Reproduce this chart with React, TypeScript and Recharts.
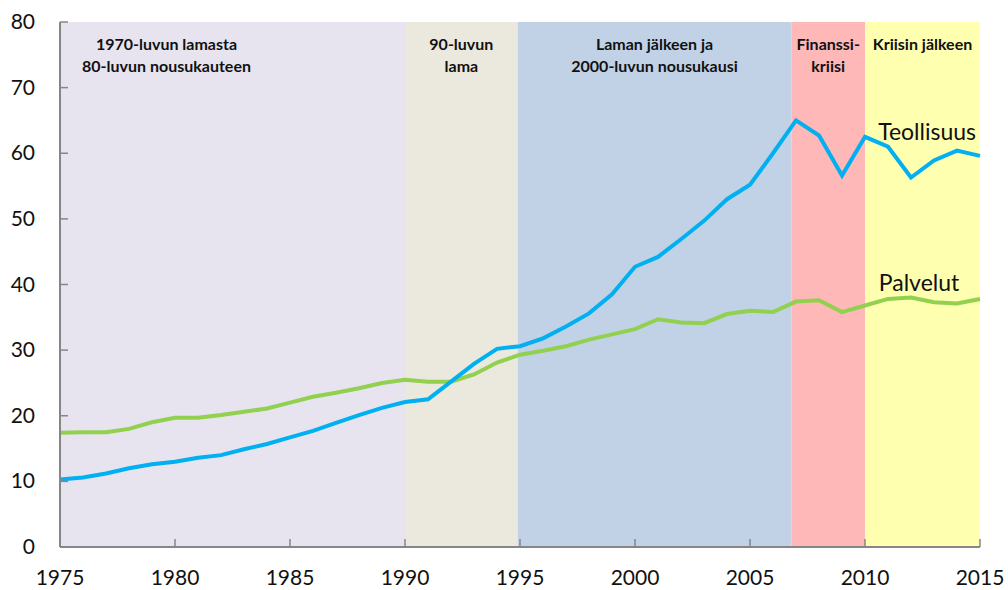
import React from 'react';
import {
  LineChart,
  Line,
  XAxis,
  YAxis,
  ReferenceArea,
  ReferenceDot,
} from 'recharts';

// --- Data ---
const years = [
  1975, 1976, 1977, 1978, 1979, 1980, 1981, 1982, 1983, 1984,
  1985, 1986, 1987, 1988, 1989, 1990, 1991, 1992, 1993, 1994,
  1995, 1996, 1997, 1998, 1999, 2000, 2001, 2002, 2003, 2004,
  2005, 2006, 2007, 2008, 2009, 2010, 2011, 2012, 2013, 2014, 2015,
];

const teollisuus = [
  10.3, 10.6, 11.2, 12.0, 12.6, 13.0, 13.6, 14.0, 14.9, 15.7,
  16.7, 17.7, 18.9, 20.1, 21.2, 22.1, 22.5, 25.2, 27.9, 30.2,
  30.6, 31.8, 33.6, 35.6, 38.5, 42.7, 44.2, 46.9, 49.7, 53.0,
  55.2, 60.0, 65.0, 62.7, 56.6, 62.5, 61.0, 56.3, 58.9, 60.4, 59.6,
];

const palvelut = [
  17.4, 17.5, 17.5, 18.0, 19.0, 19.7, 19.7, 20.1, 20.6, 21.1,
  22.0, 22.9, 23.5, 24.2, 25.0, 25.5, 25.2, 25.2, 26.3, 28.1,
  29.3, 29.9, 30.6, 31.6, 32.4, 33.2, 34.7, 34.2, 34.1, 35.5,
  36.0, 35.8, 37.4, 37.6, 35.8, 36.8, 37.8, 38.0, 37.3, 37.1, 37.8,
];

const xTicks = [1975, 1980, 1985, 1990, 1995, 2000, 2005, 2010, 2015];
const yTicks = [0, 10, 20, 30, 40, 50, 60, 70, 80];

const periods = [
  { from: 1975, to: 1990, color: '#e7e4ef', lines: ['1970-luvun lamasta', '80-luvun nousukauteen'], shift: -66 },
  { from: 1990, to: 1994.9, color: '#ebe8dd', lines: ['90-luvun', 'lama'], shift: 0 },
  { from: 1994.9, to: 2006.8, color: '#c1d2e7', lines: ['Laman jälkeen ja', '2000-luvun nousukausi'], shift: 0 },
  { from: 2006.8, to: 2010, color: '#ffb8b8', lines: ['Finanssi-', 'kriisi'], shift: 0 },
  { from: 2010, to: 2015, color: '#ffffb0', lines: ['Kriisin jälkeen'], shift: 0 },
];

const data = years.map((year, i) => ({ year, teollisuus: teollisuus[i], palvelut: palvelut[i] }));

const FONT = 'Lato, "Open Sans", sans-serif';
const AXIS = '#868686';

const PeriodLabel = (props: any) => {
  const { viewBox, lines, shift } = props;
  const cx = viewBox.x + viewBox.width / 2 + (shift || 0);
  return (
    <text x={cx} y={viewBox.y + 28} textAnchor="middle" fontFamily={FONT} fontWeight={700} fontSize={16} fill="#111">
      {lines.map((l: string, i: number) => (
        <tspan key={i} x={cx} dy={i === 0 ? 0 : 22}>{l}</tspan>
      ))}
    </text>
  );
};

const YTick = (props: any) => {
  const { y, payload } = props;
  return (
    <g>
      <line x1={60} x2={68} y1={y} y2={y} stroke={AXIS} strokeWidth={1.5} />
      <text x={35} y={y + 7} textAnchor="end" fontFamily={FONT} fontSize={21} fill="#111">{payload.value}</text>
    </g>
  );
};

const XTick = (props: any) => {
  const { x, payload } = props;
  return (
    <g>
      {payload.value !== 1975 && <line x1={x} x2={x} y1={547} y2={539} stroke={AXIS} strokeWidth={1.5} />}
      <text x={x} y={585} textAnchor="middle" fontFamily={FONT} fontSize={21} fill="#111">{payload.value}</text>
    </g>
  );
};

const App: React.FC = () => {
  return (
    <div style={{ position: 'absolute', left: 0, top: 0, width: 1008, height: 590, background: '#fff' }}>
      <LineChart width={1008} height={590} data={data} margin={{ top: 22, right: 28, bottom: 0, left: 0 }}>
        {periods.map((p, i) => (
          <ReferenceArea
            key={`area-${i}`}
            x1={p.from}
            x2={p.to}
            y1={0}
            y2={80}
            fill={p.color}
            fillOpacity={1}
            stroke="none"
            ifOverflow="hidden"
            label={<PeriodLabel lines={p.lines} shift={p.shift} />}
          />
        ))}
        <XAxis
          dataKey="year"
          type="number"
          domain={[1975, 2015]}
          ticks={xTicks}
          height={43}
          axisLine={{ stroke: AXIS, strokeWidth: 2 }}
          tickLine={false}
          tick={<XTick />}
          interval={0}
        />
        <YAxis
          type="number"
          domain={[0, 80]}
          ticks={yTicks}
          width={60}
          axisLine={{ stroke: AXIS, strokeWidth: 2 }}
          tickLine={false}
          tick={<YTick />}
          interval={0}
        />
        <Line type="linear" dataKey="palvelut" stroke="#92d050" strokeWidth={4} dot={false} isAnimationActive={false} />
        <Line type="linear" dataKey="teollisuus" stroke="#00b0f0" strokeWidth={4} dot={false} isAnimationActive={false} />
        <ReferenceDot
          x={2012.7}
          y={63.3}
          r={0}
          stroke="none"
          label={{ value: 'Teollisuus', position: 'center', fontFamily: FONT, fontSize: 23, fill: '#111' }}
        />
        <ReferenceDot
          x={2012.35}
          y={40.2}
          r={0}
          stroke="none"
          label={{ value: 'Palvelut', position: 'center', fontFamily: FONT, fontSize: 23, fill: '#111' }}
        />
      </LineChart>
    </div>
  );
};

export default App;
